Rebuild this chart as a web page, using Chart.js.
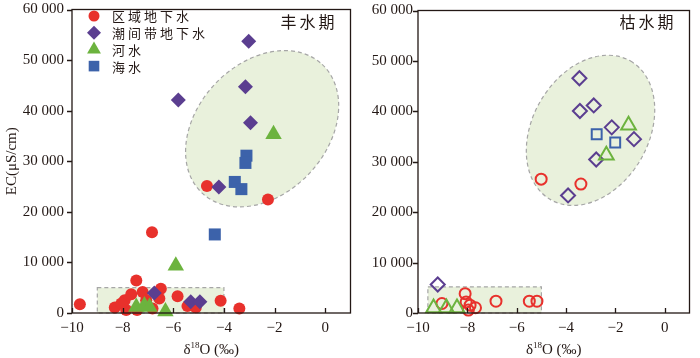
<!DOCTYPE html>
<html>
<head>
<meta charset="utf-8">
<script src="https://cdn.jsdelivr.net/npm/chart.js@4.4.1/dist/chart.umd.min.js"></script>
<style>
html, body { margin: 0; padding: 0; background: #fff; }
#wrap { position: relative; width: 700px; height: 358px; }
#c1 { position: absolute; left: 0; top: 0; }
#c2 { position: absolute; left: 360px; top: 0; }
</style>
</head>
<body>
<div id="wrap">
  <canvas id="c1" width="360" height="358"></canvas>
  <canvas id="c2" width="340" height="358"></canvas>
</div>
<script>
// axes
const xTicks = [-10, -8, -6, -4, -2, 0];
const yTicks = [0, 10000, 20000, 30000, 40000, 50000, 60000];
const seriesNames = ['区域地下水', '潮间带地下水', '河水', '海水'];
const seasonNames = ['丰水期', '枯水期'];

// 丰水期 (wet season)
const wetRegionalX = [-9.69, -6.84, -7.46, -4.67, -2.26, -8.31, -7.92, -7.86, -7.66, -7.21, -7.07, -6.49, -6.55, -5.83, -5.44, -5.11, -4.13, -3.39, -7.43, -6.82, -8.05];
const wetRegionalY = [1750, 15970, 6430, 25130, 22460, 1110, 2530, 580, 3700, 4150, 2530, 4810, 2860, 3310, 1360, 1110, 2400, 910, 580, 910, 1900];
const wetIntertidalX = [-3.02, -5.80, -3.15, -2.95, -4.20, -6.75, -5.31, -4.95];
const wetIntertidalY = [53700, 42130, 44750, 37600, 24930, 3960, 2210, 2210];
const wetRiverX = [-2.04, -5.90, -7.46, -7.14, -6.94, -6.31];
const wetRiverY = [35320, 9350, 1170, 1500, 1170, 300];
const wetSeaX = [-3.11, -3.15, -3.57, -3.31, -4.36];
const wetSeaY = [31100, 29670, 25910, 24490, 15530];

// 枯水期 (dry season)
const dryRegionalX = [-5.01, -3.40, -9.03, -8.09, -8.05, -7.89, -7.67, -7.96, -6.84, -5.49, -5.18];
const dryRegionalY = [26550, 25580, 1890, 3840, 2200, 1560, 1040, 580, 2340, 2340, 2340];
const dryIntertidalX = [-3.46, -3.44, -2.88, -2.15, -1.25, -2.78, -3.92, -9.20];
const dryIntertidalY = [46560, 40070, 41170, 36820, 34480, 30450, 23320, 5650];
const dryRiverX = [-1.47, -2.37, -9.37, -8.85, -8.42];
const dryRiverY = [37250, 31270, 970, 970, 970];
const drySeaX = [-2.76, -2.01];
const drySeaY = [35450, 33830];

const INK = '#231815';
const SERIF = '"Liberation Serif", "Times New Roman", serif';
const CJK = '"Noto Sans CJK SC", sans-serif';
const colors = ['#e8312c', '#5b3e90', '#6cb33e', '#3c62aa'];
const styles = ['circle', 'rectRot', 'triangle', 'rect'];
const filledRadius = [6, 7.5, 9.5, 8.5];
const openRadius = [5.5, 7, 8.5, 7];
const legendFilled = [5.5, 7, 8, 7.5];
const legendOpen = [5.5, 7, 8, 7];
const drawOrder = [4, 3, 2, 1];

function pts(xs, ys) {
  return xs.map((x, i) => ({ x: x, y: ys[i] }));
}

function makeSets(groups, open) {
  return groups.map((g, i) => ({
    label: seriesNames[i],
    data: pts(g[0], g[1]),
    pointStyle: styles[i],
    pointRadius: open ? openRadius[i] : filledRadius[i],
    legendRadius: open ? legendOpen[i] : legendFilled[i],
    backgroundColor: open ? 'rgba(0,0,0,0)' : colors[i],
    borderColor: colors[i],
    borderWidth: open ? 2 : 0,
    pointHoverRadius: open ? openRadius[i] : filledRadius[i],
    order: drawOrder[i],
    clip: false
  }));
}

const decor = {
  id: 'decor',
  beforeDatasetsDraw(chart, args, o) {
    const { ctx, scales: { x, y } } = chart;
    ctx.save();
    ctx.fillStyle = '#e9f1dc';
    ctx.strokeStyle = '#a6a6a6';
    ctx.lineWidth = 1.2;
    ctx.setLineDash([4, 3]);
    // low-EC zone
    const bx0 = x.getPixelForValue(o.box.x0), bx1 = x.getPixelForValue(o.box.x1);
    const by0 = y.getPixelForValue(o.box.y0), by1 = y.getPixelForValue(o.box.y1);
    ctx.fillRect(bx0, by1, bx1 - bx0, by0 - by1);
    ctx.strokeRect(bx0, by1, bx1 - bx0, by0 - by1);
    // saline zone
    const e = o.ellipse;
    ctx.beginPath();
    ctx.ellipse(x.getPixelForValue(e.x), y.getPixelForValue(e.y), e.rx, e.ry, e.rot * Math.PI / 180, 0, Math.PI * 2);
    ctx.fill();
    ctx.stroke();
    ctx.restore();
  },
  afterDraw(chart, args, o) {
    const { ctx, chartArea: a, scales: { x, y } } = chart;
    ctx.save();
    ctx.strokeStyle = INK;
    ctx.lineWidth = 1.3;
    ctx.strokeRect(a.left, a.top, a.right - a.left, a.bottom - a.top);
    ctx.beginPath();
    xTicks.forEach(v => {
      const px = Math.round(x.getPixelForValue(v)) + 0.5;
      ctx.moveTo(px, a.bottom);
      ctx.lineTo(px, a.bottom - 5);
    });
    yTicks.forEach(v => {
      const py = Math.round(y.getPixelForValue(v)) + 0.5;
      ctx.moveTo(a.left - 5, py);
      ctx.lineTo(a.left, py);
    });
    ctx.stroke();

    // x title: δ18O (‰)
    ctx.fillStyle = INK;
    ctx.textBaseline = 'alphabetic';
    ctx.textAlign = 'left';
    const big = '15px ' + SERIF, small = '9px ' + SERIF;
    ctx.font = big; const w1 = ctx.measureText('δ').width;
    ctx.font = small; const w2 = ctx.measureText('18').width;
    ctx.font = big; const w3 = ctx.measureText('O (‰)').width;
    let tx = (a.left + a.right) / 2 - (w1 + w2 + w3) / 2;
    const ty = 354;
    ctx.font = big; ctx.fillText('δ', tx, ty); tx += w1;
    ctx.font = small; ctx.fillText('18', tx, ty - 6); tx += w2;
    ctx.font = big; ctx.fillText('O (‰)', tx, ty);

    // legend
    const lg = o.legend;
    chart.data.datasets.forEach((ds, i) => {
      const cy = lg.y0 + i * lg.dy;
      ctx.fillStyle = ds.backgroundColor;
      ctx.strokeStyle = ds.borderColor;
      ctx.lineWidth = ds.borderWidth;
      ctx.setLineDash([]);
      Chart.helpers.drawPoint(ctx, { pointStyle: ds.pointStyle, radius: ds.legendRadius, rotation: 0, borderWidth: ds.borderWidth }, lg.x, cy);
      ctx.fillStyle = INK;
      ctx.font = '13px ' + CJK;
      ctx.letterSpacing = '3px';
      ctx.textBaseline = 'middle';
      ctx.fillText(ds.label, lg.tx, cy + 0.5);
    });

    // season title
    ctx.font = '16px ' + CJK;
    ctx.letterSpacing = '3px';
    ctx.textAlign = 'right';
    ctx.textBaseline = 'middle';
    ctx.fillText(o.season, a.right - 13, 22);
    ctx.restore();
  }
};

function makeChart(id, datasets, cfg) {
  return new Chart(document.getElementById(id), {
    type: 'scatter',
    data: { datasets: datasets },
    options: {
      responsive: false,
      animation: false,
      devicePixelRatio: 1,
      events: [],
      layout: { padding: { left: 0, right: cfg.padRight, top: 5, bottom: 0 } },
      plugins: {
        legend: { display: false },
        tooltip: { enabled: false },
        decor: { box: cfg.box, ellipse: cfg.ellipse, legend: cfg.legend, season: cfg.season }
      },
      scales: {
        x: {
          type: 'linear',
          min: -10,
          max: 1,
          grid: { display: false, drawTicks: false },
          border: { display: false },
          afterBuildTicks: s => { s.ticks = xTicks.map(v => ({ value: v })); },
          afterFit: s => { s.height = 45; s.paddingLeft = 0; s.paddingRight = 0; },
          ticks: {
            padding: 6,
            autoSkip: false,
            maxRotation: 0,
            color: INK,
            font: { family: SERIF, size: 15 },
            callback: v => (v < 0 ? '\u2212' + Math.abs(v) : String(v))
          }
        },
        y: {
          type: 'linear',
          min: 0,
          max: 60000,
          grid: { display: false, drawTicks: false },
          border: { display: false },
          afterBuildTicks: s => { s.ticks = yTicks.map(v => ({ value: v })); },
          afterFit: s => { s.width = cfg.yWidth; s.paddingTop = 0; s.paddingBottom = 0; },
          ticks: {
            padding: cfg.yPad,
            color: INK,
            font: { family: SERIF, size: 15 },
            callback: v => String(v).replace(/\B(?=(\d{3})+(?!\d))/g, ' ')
          },
          title: {
            display: cfg.yTitle,
            text: 'EC(μS/cm)',
            color: INK,
            font: { family: SERIF, size: 15 },
            padding: { top: 3, bottom: 0 }
          }
        }
      }
    },
    plugins: [decor]
  });
}

makeChart('c1', makeSets([
  [wetRegionalX, wetRegionalY],
  [wetIntertidalX, wetIntertidalY],
  [wetRiverX, wetRiverY],
  [wetSeaX, wetSeaY]
], false), {
  padRight: 7, yWidth: 72, yPad: 8, yTitle: true,
  box: { x0: -9, x1: -4, y0: 0, y1: 5000 },
  ellipse: { x: -2.49, y: 36430, rx: 88, ry: 65, rot: -47 },
  legend: { x: 94, tx: 112, y0: 16, dy: 16.7 },
  season: seasonNames[0]
});

makeChart('c2', makeSets([
  [dryRegionalX, dryRegionalY],
  [dryIntertidalX, dryIntertidalY],
  [dryRiverX, dryRiverY],
  [drySeaX, drySeaY]
], true), {
  padRight: 2, yWidth: 58, yPad: 5, yTitle: false,
  box: { x0: -9.6, x1: -5, y0: 0, y1: 5200 },
  ellipse: { x: -3.01, y: 36230, rx: 80, ry: 58, rot: -60 },
  legend: { x: 437, tx: 457, y0: 16, dy: 16.7 },
  season: seasonNames[1]
});
</script>
</body>
</html>
